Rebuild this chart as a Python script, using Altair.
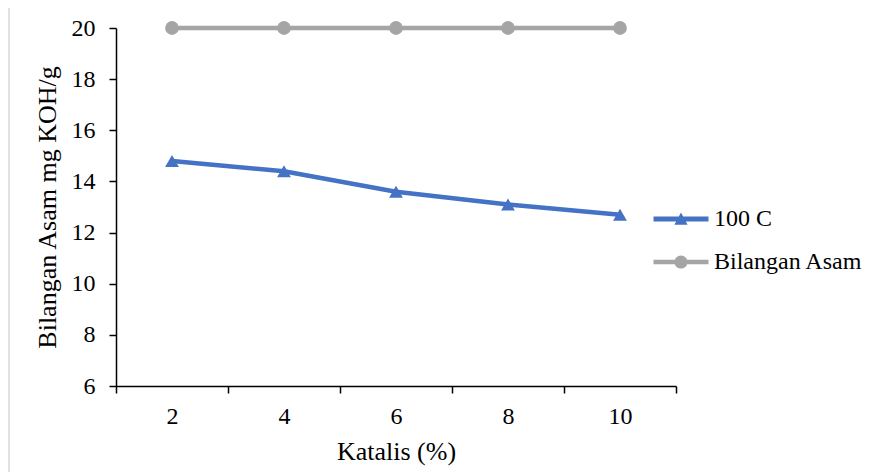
import altair as alt
import pandas as pd

katalis = ["2", "4", "6", "8", "10"]
suhu_100c = [14.8, 14.4, 13.6, 13.1, 12.7]
bilangan_asam = [20, 20, 20, 20, 20]
series = ["100 C", "Bilangan Asam"]
colors = ["#4472C4", "#A5A5A5"]
y_ticks = [6, 8, 10, 12, 14, 16, 18, 20]

rows = []
for k, a, b in zip(katalis, suhu_100c, bilangan_asam):
    rows.append({"Katalis": k, "Seri": series[0], "Nilai": a})
    rows.append({"Katalis": k, "Seri": series[1], "Nilai": b})
df = pd.DataFrame(rows)

FONT = "Liberation Serif"

x_enc = alt.X(
    "Katalis:N",
    sort=katalis,
    scale=alt.Scale(paddingInner=0, paddingOuter=0),
    axis=alt.Axis(
        title="Katalis (%)", labelAngle=0, tickBand="extent", tickSize=7,
        labelPadding=11, titlePadding=10, domainColor="black", tickColor="black",
        domainWidth=1.5, tickWidth=1.5,
    ),
)
y_enc = alt.Y(
    "Nilai:Q",
    scale=alt.Scale(domain=[6, 20], nice=False, zero=False),
    axis=alt.Axis(
        title="Bilangan Asam mg KOH/g", values=y_ticks, grid=False, tickSize=7,
        labelPadding=14, titlePadding=11, domainColor="black", tickColor="black",
        domainWidth=1.5, tickWidth=1.5,
    ),
)

color_scale = alt.Scale(domain=series, range=colors)

line = alt.Chart(df).mark_line(strokeWidth=4.5).encode(
    x=x_enc, y=y_enc,
    color=alt.Color("Seri:N", scale=color_scale, legend=None),
)

points = alt.Chart(df).mark_point(filled=True, size=190, opacity=1).encode(
    x=x_enc, y=y_enc,
    color=alt.Color("Seri:N", scale=color_scale, legend=None),
    shape=alt.Shape("Seri:N", scale=alt.Scale(domain=series, range=["triangle-up", "circle"]), legend=None),
)

tri_path = "M-2,-0.18L2,-0.18L2,0.18L-2,0.18Z M0,-0.48L0.48,0.41L-0.48,0.41Z"
circ_path = "M-2,-0.16L2,-0.16L2,0.16L-2,0.16Z M0.48,0 A0.48,0.48 0 1,1 -0.48,0 A0.48,0.48 0 1,1 0.48,0 Z"

legend_cfg = alt.Legend(
    title=None, orient="none", legendX=551, legendY=177, padding=0,
    symbolSize=756, symbolStrokeWidth=0, symbolOpacity=1,
    labelFont=FONT, labelFontSize=24, labelColor="black", labelOffset=19,
    rowPadding=17,
)

legend_layer = alt.Chart(df).mark_point(filled=True, size=756, opacity=1).encode(
    x=x_enc, y=y_enc,
    color=alt.Color("Seri:N", scale=color_scale, legend=legend_cfg),
    shape=alt.Shape("Seri:N", scale=alt.Scale(domain=series, range=[tri_path, circ_path]), legend=legend_cfg),
).transform_filter("false")

border = alt.Chart(pd.DataFrame({"a": [0]})).mark_rect(
    fillOpacity=0, stroke="#D9D9D9", strokeWidth=1.5
).encode(
    x=alt.value(-107), x2=alt.value(760), y=alt.value(-22), y2=alt.value(470)
)

chart = alt.layer(border, line, points, legend_layer).resolve_scale(
    color="independent", shape="independent"
).properties(
    width=560, height=358,
    autosize=alt.AutoSizeParams(type="none"),
    padding={"left": 108, "top": 20, "right": 190, "bottom": 86},
).configure_axis(
    labelFont=FONT, titleFont=FONT, labelFontSize=24, titleFontSize=26,
    labelColor="black", titleColor="black", titleFontWeight="normal",
).configure_view(stroke=None)

chart.save("out.html", embed_options={"renderer": "svg", "actions": False})
